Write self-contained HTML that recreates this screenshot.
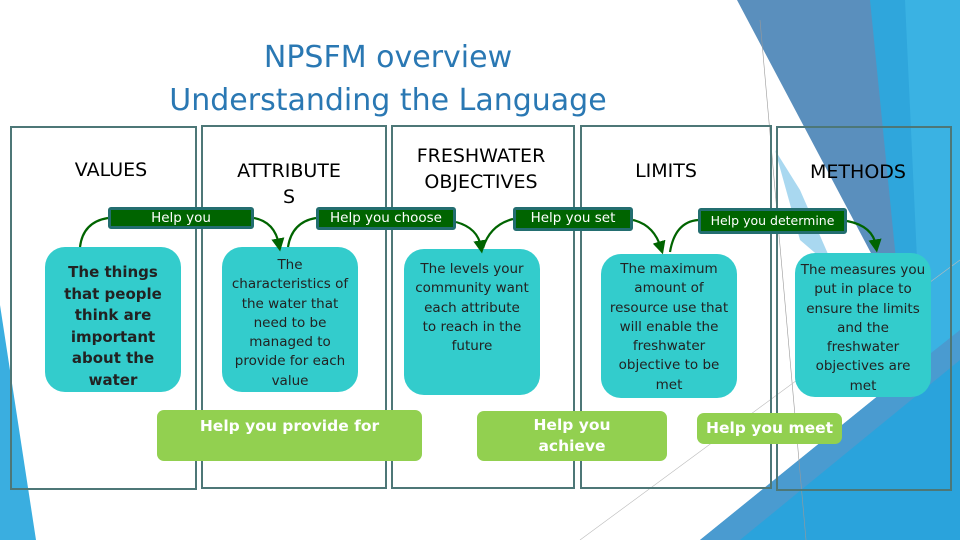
<!DOCTYPE html>
<html><head><meta charset="utf-8"><style>
body{margin:0;width:960px;height:540px;position:relative;overflow:hidden;background:#fff;font-family:"DejaVu Sans","Liberation Sans",sans-serif;}
.a{position:absolute;}
.col{position:absolute;border:2px solid #4d7777;box-sizing:border-box;}
.h{position:absolute;text-align:center;font-size:19px;color:#000;line-height:26px;}
.t{position:absolute;background:#33cccc;border-radius:20px;text-align:center;font-size:13.5px;line-height:19.3px;color:#222;box-sizing:border-box;}
.g{position:absolute;background:#006400;border:3px solid #236e70;border-radius:3px;color:#fff;font-size:13.5px;line-height:17px;box-sizing:border-box;text-align:center;}
.l{position:absolute;background:#92d050;border-radius:7px;color:#fff;font-weight:bold;font-size:15.5px;text-align:center;line-height:21px;box-sizing:border-box;}
</style></head><body>
<svg class="a" style="left:0;top:0" width="960" height="540">
<polygon points="0,305 0,540 36,540" fill="#3aaee0"/>
<polygon points="737,0 960,0 960,540 700,540 926,357" fill="#5a8fbd"/>
<polygon points="870,0 960,0 960,540 880,540 900,300" fill="#2fa6dc"/>
<polygon points="905,0 960,0 960,540 930,540" fill="#3ab2e3"/>
<polygon points="700,540 926,357 960,330 960,540" fill="#4a9bd0"/>
<polygon points="740,540 960,360 960,540" fill="#2aa3dc"/>
<polygon points="775,150 800,190 835,270 800,240" fill="#a9d8f0"/>
<line x1="760" y1="20" x2="806" y2="540" stroke="#999" stroke-width="0.6"/>
<line x1="580" y1="540" x2="960" y2="260" stroke="#bbb" stroke-width="0.6"/>
</svg>
<div class="a" style="left:0;width:776px;top:36px;text-align:center;color:#2a78b3;font-size:30px;line-height:43px;">NPSFM overview<br>Understanding the Language</div>
<div class="col" style="left:10px;top:126px;width:187px;height:364px"></div>
<div class="col" style="left:201px;top:125px;width:186px;height:364px"></div>
<div class="col" style="left:391px;top:125px;width:184px;height:364px"></div>
<div class="col" style="left:580px;top:125px;width:192px;height:364px"></div>
<div class="col" style="left:776px;top:126px;width:176px;height:365px"></div>
<div class="h" style="left:10px;width:202px;top:157px">VALUES</div>
<div class="h" style="left:201px;width:176px;top:158px">ATTRIBUTE<br>S</div>
<div class="h" style="left:391px;width:180px;top:143px">FRESHWATER<br>OBJECTIVES</div>
<div class="h" style="left:580px;width:172px;top:158px">LIMITS</div>
<div class="h" style="left:776px;width:164px;top:159px">METHODS</div>
<div class="t" style="left:45px;top:247px;width:136px;height:145px;padding-top:15px;font-weight:bold;font-size:15px;line-height:21.5px;">The things<br>that people<br>think are<br>important<br>about the<br>water</div>
<div class="t" style="left:222px;top:247px;width:136px;height:145px;padding-top:9px;">The<br>characteristics of<br>the water that<br>need to be<br>managed to<br>provide for each<br>value</div>
<div class="t" style="left:404px;top:249px;width:136px;height:146px;padding-top:11px;">The levels your<br>community want<br>each attribute<br>to reach in the<br>future</div>
<div class="t" style="left:601px;top:254px;width:136px;height:144px;padding-top:6px;">The maximum<br>amount of<br>resource use that<br>will enable the<br>freshwater<br>objective to be<br>met</div>
<div class="t" style="left:795px;top:253px;width:136px;height:144px;padding-top:8px;">The measures you<br>put in place to<br>ensure the limits<br>and the<br>freshwater<br>objectives are<br>met</div>
<div class="g" style="left:108px;top:207px;width:146px;height:22px;">Help you</div>
<div class="g" style="left:316px;top:207px;width:140px;height:23px;">Help you choose</div>
<div class="g" style="left:513px;top:207px;width:120px;height:24px;">Help you set</div>
<div class="g" style="left:698px;top:208px;width:149px;height:26px;font-size:12.5px;line-height:20px;">Help you determine</div>
<svg class="a" style="left:0;top:0" width="960" height="540">
<defs><marker id="m" markerWidth="6" markerHeight="6" refX="3" refY="3" orient="auto"><path d="M0,0 L6,3 L0,6z" fill="#006400"/></marker></defs>
<g fill="none" stroke="#006400" stroke-width="2.2">
<path d="M108,218 Q83,222 80,247"/>
<path d="M254,218 Q275,222 279,245" marker-end="url(#m)"/>
<path d="M316,218 Q292,222 288,247"/>
<path d="M456,222 Q478,228 481,247" marker-end="url(#m)"/>
<path d="M513,219 Q490,225 483,248"/>
<path d="M633,220 Q654,225 661,248" marker-end="url(#m)"/>
<path d="M698,220 Q675,222 670,252"/>
<path d="M847,221 Q873,226 876,246" marker-end="url(#m)"/>
</g></svg>
<div class="l" style="left:157px;top:410px;width:265px;height:51px;padding-top:6px;">Help you provide for</div>
<div class="l" style="left:477px;top:411px;width:190px;height:50px;padding-top:4px;">Help you<br>achieve</div>
<div class="l" style="left:697px;top:413px;width:145px;height:31px;padding-top:5px;">Help you meet</div>
</body></html>
